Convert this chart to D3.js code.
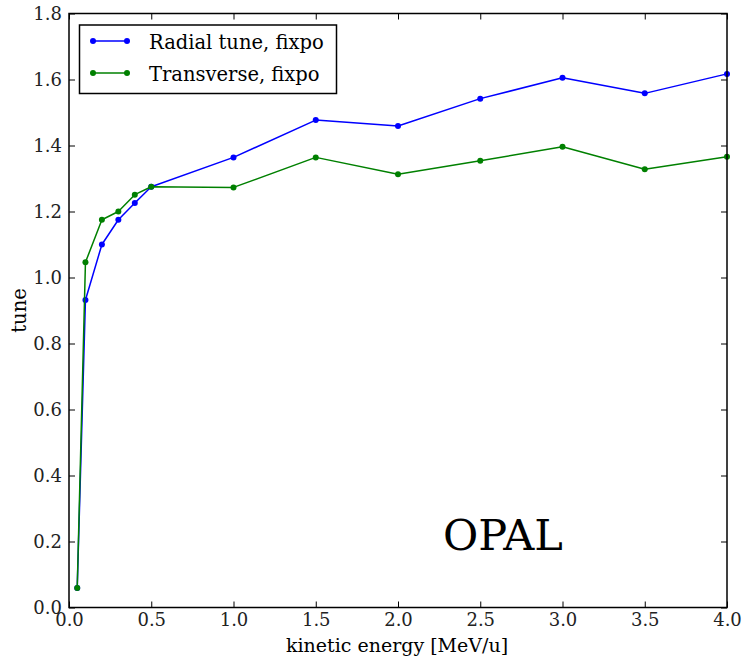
<!DOCTYPE html>
<html>
<head>
<meta charset="utf-8">
<script src="https://cdn.jsdelivr.net/npm/d3@7"></script>
<style>
  html, body { margin: 0; padding: 0; background: #fff; }
  svg { display: block; }
</style>
</head>
<body>
<svg id="chart" width="742" height="659"></svg>
<script>
const energy = [0.05, 0.1, 0.2, 0.3, 0.4, 0.5, 1.0, 1.5, 2.0, 2.5, 3.0, 3.5, 4.0];
const radialTune = [0.059, 0.932, 1.100, 1.175, 1.226, 1.275, 1.364, 1.477, 1.459, 1.542, 1.605, 1.558, 1.617];
const transverseTune = [0.059, 1.046, 1.175, 1.200, 1.251, 1.275, 1.273, 1.364, 1.313, 1.354, 1.396, 1.328, 1.366];
const xTicks = [0.0, 0.5, 1.0, 1.5, 2.0, 2.5, 3.0, 3.5, 4.0];
const yTicks = [0.0, 0.2, 0.4, 0.6, 0.8, 1.0, 1.2, 1.4, 1.6, 1.8];
const seriesNames = ["Radial tune, fixpo", "Transverse, fixpo"];
const seriesColors = ["#0000ff", "#008000"];
const xLabel = "kinetic energy [MeV/u]";
const yLabel = "tune";
const annotation = "OPAL";

const FONT = "'DejaVu Serif', 'Liberation Serif', 'Times New Roman', Times, 'Noto Serif', FreeSerif, serif";

const svg = d3.select("#chart").style("font-family", FONT);
const L = 69, R = 727, T = 13.5, B = 607.5;
const x = d3.scaleLinear().domain([0, 4]).range([L, R]);
const y = d3.scaleLinear().domain([0, 1.8]).range([B, T]);
const tickLen = 6;
const fmt = d3.format(".1f");

const series = [radialTune, transverseTune];
const line = d3.line().x((d, i) => x(energy[i])).y(d => y(d));

const plot = svg.append("g");
series.forEach((vals, s) => {
  plot.append("path").datum(vals)
    .attr("d", line)
    .attr("fill", "none")
    .attr("stroke", seriesColors[s])
    .attr("stroke-width", 1.5)
    .attr("stroke-linejoin", "round");
  plot.selectAll(".pt" + s).data(vals).enter().append("circle")
    .attr("cx", (d, i) => x(energy[i]))
    .attr("cy", d => y(d))
    .attr("r", 3)
    .attr("fill", seriesColors[s]);
});

const axB = d3.axisBottom(x).tickValues(xTicks).tickFormat(fmt).tickSizeInner(-tickLen).tickSizeOuter(0).tickPadding(6);
const axT = d3.axisTop(x).tickValues(xTicks).tickFormat("").tickSizeInner(-tickLen).tickSizeOuter(0);
const axL = d3.axisLeft(y).tickValues(yTicks).tickFormat(fmt).tickSizeInner(-tickLen).tickSizeOuter(0).tickPadding(7);
const axR = d3.axisRight(y).tickValues(yTicks).tickFormat("").tickSizeInner(-tickLen).tickSizeOuter(0);

function style(g) {
  g.attr("font-family", null).attr("font-size", null);
  g.select(".domain").remove();
  g.selectAll(".tick line").attr("stroke", "#000").attr("stroke-width", 1);
  g.selectAll(".tick text").style("font-family", FONT).attr("font-size", 18).attr("fill", "#222");
}
svg.append("g").attr("transform", `translate(0,${B})`).call(axB).call(style);
svg.append("g").attr("transform", `translate(0,${T})`).call(axT).call(style);
svg.append("g").attr("transform", `translate(${L},0)`).call(axL).call(style);
svg.append("g").attr("transform", `translate(${R},0)`).call(axR).call(style);

svg.append("rect").attr("x", L).attr("y", T).attr("width", R - L).attr("height", B - T)
  .attr("fill", "none").attr("stroke", "#000").attr("stroke-width", 1.5);

svg.append("text").attr("x", 397).attr("y", 652).attr("text-anchor", "middle")
  .attr("font-size", 19).text(xLabel);
svg.append("text").attr("transform", `translate(26,${(T + B) / 2}) rotate(-90)`)
  .attr("text-anchor", "middle").attr("font-size", 19.5).text(yLabel);

svg.append("text").attr("x", 503).attr("y", 550).attr("text-anchor", "middle")
  .attr("font-size", 43).text(annotation);

const lg = svg.append("g");
lg.append("rect").attr("x", 79.5).attr("y", 25).attr("width", 257).attr("height", 68.5)
  .attr("fill", "#fff").attr("stroke", "#000").attr("stroke-width", 1.5);
seriesNames.forEach((name, s) => {
  const yy = 41 + s * 32;
  lg.append("line").attr("x1", 93).attr("x2", 127).attr("y1", yy).attr("y2", yy)
    .attr("stroke", seriesColors[s]).attr("stroke-width", 1.5);
  [93, 127].forEach(cx => lg.append("circle").attr("cx", cx).attr("cy", yy).attr("r", 3).attr("fill", seriesColors[s]));
  lg.append("text").attr("x", 149).attr("y", yy + 7.5).attr("font-size", 19.5).text(name);
});
</script>
</body>
</html>
